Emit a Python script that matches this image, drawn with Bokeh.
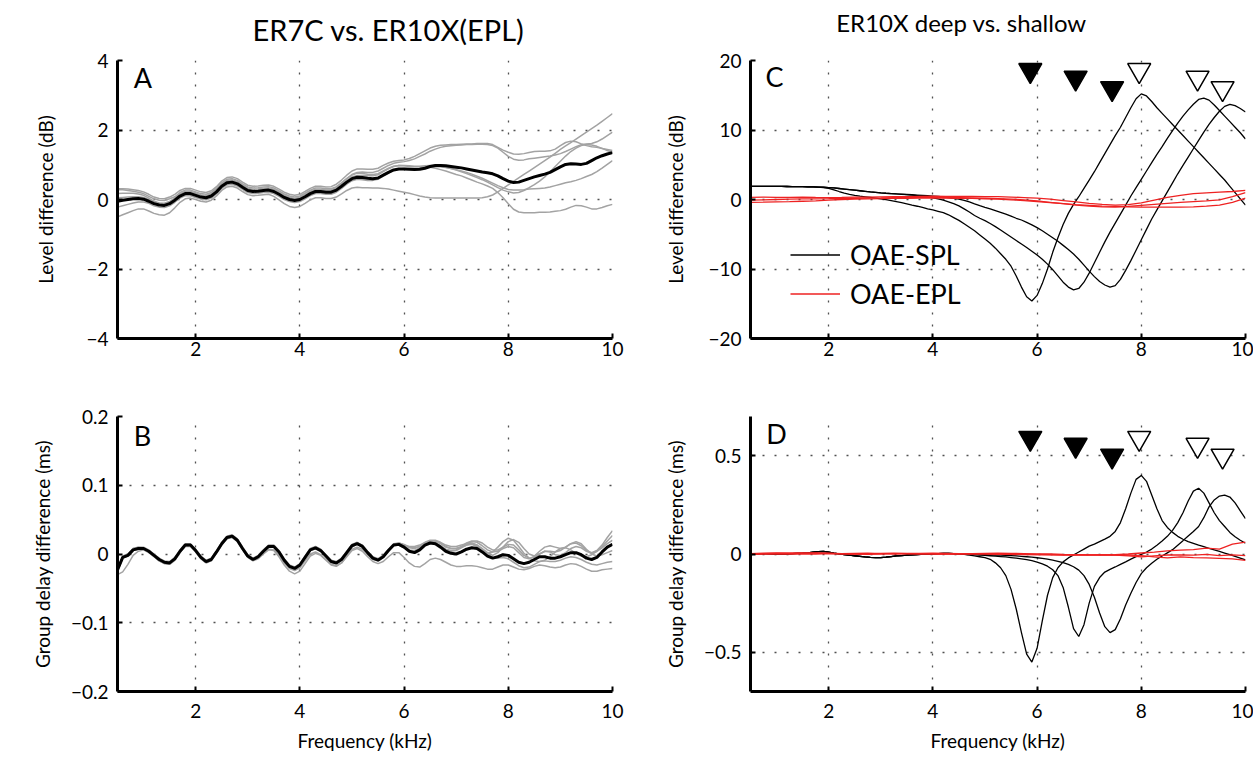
from bokeh.plotting import figure
from bokeh.layouts import row, column
from bokeh.models import Range1d, FixedTicker, CustomJSTickFormatter, Label, Legend, LegendItem
from bokeh.embed import file_html
from bokeh.resources import INLINE

FONT = "Lato"

# frequency sample grids (kHz)
FREQ = [round(0.5 + 0.1 * i, 1) for i in range(96)]
FREQ_EPL = [round(0.5 + 0.25 * i, 2) for i in range(39)]

# ---------------- Panel A: level difference ER7C vs ER10X (dB) ----------------
A_MEAN = [-0.05,-0.02,0.00,0.02,0.03,0.01,-0.05,-0.12,-0.16,-0.17,
          -0.12,-0.02,0.10,0.17,0.17,0.12,0.07,0.05,0.10,0.22,
          0.38,0.48,0.50,0.45,0.35,0.26,0.23,0.24,0.26,0.27,
          0.23,0.15,0.06,0.00,-0.03,0.00,0.08,0.17,0.23,0.23,
          0.21,0.21,0.27,0.38,0.50,0.60,0.64,0.63,0.61,0.60,
          0.62,0.70,0.78,0.85,0.88,0.88,0.87,0.86,0.87,0.90,
          0.95,0.98,0.98,0.97,0.95,0.93,0.91,0.88,0.85,0.82,
          0.79,0.77,0.74,0.68,0.60,0.53,0.49,0.50,0.55,0.60,
          0.65,0.69,0.73,0.78,0.86,0.94,1.01,1.03,1.02,1.01,
          1.04,1.12,1.20,1.26,1.31,1.35]
A_S1 = [-0.50,-0.44,-0.38,-0.32,-0.27,-0.27,-0.33,-0.40,-0.44,-0.45,
        -0.38,-0.24,-0.08,0.02,0.04,0.00,-0.05,-0.07,-0.02,0.10,
        0.26,0.36,0.38,0.33,0.23,0.14,0.11,0.12,0.14,0.15,
        0.09,-0.01,-0.12,-0.20,-0.23,-0.20,-0.11,-0.01,0.05,0.05,
        0.03,0.03,0.07,0.16,0.26,0.33,0.35,0.34,0.34,0.33,
        0.33,0.32,0.30,0.27,0.24,0.21,0.18,0.14,0.10,0.07,
        0.05,0.04,0.04,0.04,0.04,0.04,0.04,0.04,0.04,0.04,
        0.05,0.08,0.13,0.22,0.32,0.42,0.52,0.62,0.72,0.82,
        0.92,1.02,1.12,1.22,1.33,1.44,1.54,1.64,1.74,1.84,
        1.94,2.04,2.14,2.25,2.36,2.47]
A_S2 = [0.28,0.28,0.26,0.24,0.21,0.17,0.09,0.02,-0.02,-0.03,
        0.02,0.08,0.20,0.27,0.27,0.22,0.17,0.15,0.20,0.32,
        0.48,0.58,0.60,0.55,0.45,0.36,0.33,0.34,0.36,0.37,
        0.33,0.25,0.16,0.10,0.07,0.10,0.18,0.27,0.33,0.33,
        0.31,0.31,0.37,0.48,0.60,0.70,0.76,0.75,0.73,0.72,
        0.74,0.82,0.90,0.96,0.98,0.97,0.95,0.94,0.94,0.94,
        0.93,0.90,0.86,0.82,0.77,0.72,0.68,0.62,0.56,0.50,
        0.45,0.39,0.32,0.20,0.05,-0.12,-0.28,-0.36,-0.38,-0.38,
        -0.38,-0.37,-0.37,-0.36,-0.34,-0.32,-0.28,-0.22,-0.17,-0.18,
        -0.22,-0.27,-0.27,-0.23,-0.18,-0.14]
A_S3 = [0.31,0.31,0.30,0.28,0.26,0.22,0.15,0.07,0.03,0.02,
        0.07,0.15,0.26,0.32,0.32,0.27,0.22,0.20,0.25,0.37,
        0.53,0.63,0.65,0.60,0.50,0.41,0.38,0.39,0.41,0.42,
        0.38,0.30,0.21,0.15,0.12,0.15,0.23,0.32,0.38,0.38,
        0.36,0.37,0.44,0.56,0.70,0.82,0.88,0.88,0.87,0.87,
        0.90,0.98,1.05,1.10,1.12,1.14,1.18,1.24,1.32,1.40,
        1.48,1.53,1.56,1.57,1.58,1.58,1.59,1.60,1.60,1.61,
        1.61,1.61,1.58,1.50,1.42,1.36,1.31,1.30,1.32,1.35,
        1.38,1.39,1.39,1.40,1.45,1.55,1.64,1.68,1.66,1.60,
        1.55,1.52,1.50,1.47,1.44,1.41]
A_S4 = [0.17,0.18,0.18,0.18,0.16,0.12,0.04,-0.05,-0.10,-0.11,
        -0.06,0.04,0.16,0.23,0.23,0.18,0.13,0.11,0.16,0.28,
        0.44,0.54,0.56,0.51,0.41,0.32,0.29,0.30,0.32,0.33,
        0.29,0.21,0.12,0.06,0.03,0.06,0.14,0.23,0.29,0.29,
        0.27,0.28,0.35,0.47,0.60,0.72,0.78,0.79,0.78,0.78,
        0.82,0.90,0.98,1.04,1.07,1.09,1.12,1.17,1.24,1.31,
        1.39,1.45,1.50,1.53,1.55,1.56,1.57,1.58,1.58,1.59,
        1.59,1.58,1.55,1.48,1.36,1.24,1.16,1.13,1.14,1.17,
        1.19,1.21,1.23,1.25,1.28,1.32,1.38,1.45,1.52,1.58,
        1.60,1.61,1.66,1.74,1.84,1.94]
A_S5 = [-0.22,-0.18,-0.14,-0.10,-0.07,-0.07,-0.11,-0.18,-0.22,-0.23,
        -0.18,-0.08,0.04,0.11,0.11,0.06,0.01,-0.01,0.04,0.16,
        0.32,0.42,0.44,0.39,0.29,0.20,0.17,0.18,0.20,0.21,
        0.17,0.09,0.00,-0.06,-0.09,-0.06,0.02,0.11,0.17,0.17,
        0.15,0.15,0.21,0.32,0.44,0.54,0.58,0.57,0.55,0.55,
        0.58,0.67,0.76,0.84,0.88,0.89,0.89,0.89,0.90,0.92,
        0.94,0.95,0.94,0.92,0.89,0.86,0.82,0.78,0.73,0.67,
        0.61,0.54,0.47,0.40,0.34,0.29,0.27,0.27,0.28,0.30,
        0.31,0.32,0.33,0.36,0.40,0.44,0.48,0.51,0.55,0.60,
        0.66,0.72,0.80,0.90,1.01,1.12]
A_S6 = [0.05,0.06,0.07,0.08,0.08,0.06,0.00,-0.07,-0.11,-0.12,
        -0.07,0.03,0.15,0.22,0.22,0.17,0.12,0.10,0.15,0.27,
        0.43,0.53,0.55,0.50,0.40,0.31,0.28,0.29,0.31,0.32,
        0.28,0.20,0.11,0.05,0.02,0.05,0.13,0.22,0.28,0.28,
        0.26,0.26,0.32,0.43,0.55,0.65,0.69,0.69,0.68,0.68,
        0.71,0.80,0.88,0.95,0.98,0.98,0.97,0.96,0.96,0.97,
        0.98,0.98,0.96,0.93,0.89,0.85,0.80,0.75,0.69,0.63,
        0.57,0.50,0.42,0.34,0.27,0.22,0.19,0.20,0.26,0.34,
        0.43,0.53,0.65,0.79,0.95,1.10,1.25,1.38,1.48,1.55,
        1.58,1.57,1.53,1.47,1.41,1.35]

# ---------------- Panel B: group delay difference (ms) ----------------
B_MEAN = [-0.023,-0.005,-0.002,0.006,0.008,0.008,0.004,-0.002,-0.008,-0.012,
          -0.013,-0.007,0.004,0.013,0.013,0.005,-0.005,-0.011,-0.008,0.003,
          0.015,0.024,0.026,0.020,0.008,-0.003,-0.008,-0.004,0.004,0.011,
          0.011,0.003,-0.009,-0.018,-0.021,-0.016,-0.005,0.006,0.009,0.005,
          -0.003,-0.011,-0.013,-0.008,0.002,0.012,0.015,0.011,0.002,-0.006,
          -0.009,-0.004,0.005,0.013,0.014,0.010,0.004,0.002,0.006,0.013,
          0.016,0.015,0.010,0.004,0.001,0.000,0.003,0.007,0.009,0.008,
          0.003,-0.003,-0.006,-0.004,-0.001,-0.002,-0.007,-0.012,-0.014,-0.012,
          -0.008,-0.004,-0.004,-0.006,-0.006,-0.004,-0.001,0.002,0.002,-0.001,
          -0.006,-0.008,-0.005,0.003,0.010,0.014]
B_S1 = [-0.030,-0.026,-0.015,-0.002,0.004,0.006,0.002,-0.004,-0.010,-0.014,
        -0.015,-0.009,0.002,0.011,0.011,0.003,-0.007,-0.013,-0.010,0.001,
        0.013,0.022,0.024,0.018,0.006,-0.005,-0.010,-0.007,0.000,0.006,
        0.005,-0.004,-0.016,-0.025,-0.029,-0.025,-0.014,-0.003,0.001,-0.002,
        -0.009,-0.016,-0.018,-0.013,-0.003,0.007,0.010,0.007,-0.001,-0.008,
        -0.010,-0.005,0.004,0.012,0.013,0.009,0.005,0.004,0.008,0.015,
        0.019,0.019,0.015,0.010,0.008,0.008,0.011,0.016,0.019,0.019,
        0.016,0.010,0.006,0.006,0.010,0.014,0.013,0.006,-0.002,-0.006,
        -0.005,0.000,0.004,0.004,0.003,0.005,0.010,0.015,0.016,0.012,
        0.005,0.002,0.005,0.013,0.024,0.034]
B_S2 = [-0.020,-0.004,0.000,0.008,0.010,0.009,0.004,-0.003,-0.010,-0.014,
        -0.015,-0.009,0.002,0.012,0.012,0.004,-0.006,-0.012,-0.009,0.002,
        0.014,0.023,0.025,0.019,0.007,-0.004,-0.009,-0.006,0.001,0.007,
        0.006,-0.002,-0.013,-0.021,-0.024,-0.020,-0.010,0.000,0.003,-0.001,
        -0.008,-0.015,-0.017,-0.013,-0.004,0.005,0.008,0.004,-0.004,-0.011,
        -0.014,-0.011,-0.004,0.002,0.002,-0.005,-0.013,-0.018,-0.019,-0.014,
        -0.008,-0.006,-0.008,-0.012,-0.016,-0.018,-0.018,-0.017,-0.017,-0.018,
        -0.020,-0.022,-0.022,-0.019,-0.016,-0.016,-0.019,-0.022,-0.023,-0.021,
        -0.018,-0.016,-0.017,-0.019,-0.020,-0.019,-0.016,-0.014,-0.015,-0.018,
        -0.022,-0.025,-0.025,-0.023,-0.022,-0.021]
B_S3 = [-0.021,-0.003,0.000,0.008,0.010,0.010,0.006,0.000,-0.006,-0.010,
        -0.011,-0.005,0.006,0.015,0.015,0.007,-0.003,-0.009,-0.006,0.005,
        0.017,0.026,0.028,0.022,0.010,-0.001,-0.006,-0.002,0.006,0.013,
        0.013,0.005,-0.007,-0.016,-0.019,-0.014,-0.003,0.008,0.011,0.007,
        -0.001,-0.009,-0.011,-0.006,0.004,0.014,0.017,0.013,0.004,-0.004,
        -0.007,-0.002,0.007,0.015,0.016,0.014,0.010,0.009,0.011,0.016,
        0.019,0.019,0.016,0.011,0.008,0.008,0.010,0.013,0.015,0.013,
        0.008,0.002,-0.002,0.002,0.010,0.018,0.021,0.017,0.008,0.000,
        -0.003,0.000,0.004,0.003,-0.001,-0.002,0.002,0.008,0.011,0.009,
        0.004,0.001,0.004,0.011,0.019,0.027]
B_S4 = [-0.025,-0.006,-0.003,0.005,0.007,0.007,0.003,-0.003,-0.009,-0.013,
        -0.014,-0.008,0.003,0.012,0.012,0.004,-0.006,-0.012,-0.009,0.002,
        0.014,0.023,0.025,0.019,0.007,-0.004,-0.009,-0.005,0.003,0.010,
        0.010,0.002,-0.010,-0.019,-0.022,-0.017,-0.006,0.005,0.008,0.004,
        -0.004,-0.012,-0.014,-0.009,0.001,0.011,0.014,0.010,0.002,-0.005,
        -0.007,-0.002,0.007,0.014,0.016,0.013,0.009,0.008,0.011,0.016,
        0.018,0.016,0.011,0.006,0.004,0.005,0.009,0.013,0.014,0.011,
        0.005,0.001,0.003,0.010,0.018,0.023,0.020,0.011,0.001,-0.006,
        -0.010,-0.011,-0.009,-0.004,0.003,0.008,0.009,0.006,0.001,-0.003,
        -0.004,-0.001,0.004,0.009,0.015,0.020]
B_S5 = [-0.024,-0.006,-0.002,0.006,0.008,0.008,0.004,-0.002,-0.008,-0.012,
        -0.013,-0.007,0.004,0.013,0.013,0.005,-0.005,-0.011,-0.008,0.003,
        0.015,0.024,0.026,0.020,0.008,-0.003,-0.008,-0.004,0.004,0.011,
        0.011,0.003,-0.009,-0.018,-0.021,-0.016,-0.005,0.006,0.009,0.005,
        -0.003,-0.011,-0.013,-0.008,0.002,0.012,0.015,0.011,0.002,-0.006,
        -0.009,-0.004,0.005,0.013,0.015,0.013,0.011,0.011,0.013,0.017,
        0.020,0.020,0.017,0.013,0.011,0.011,0.013,0.015,0.016,0.013,
        0.007,0.000,-0.005,-0.006,-0.005,-0.007,-0.012,-0.017,-0.020,-0.019,
        -0.015,-0.011,-0.010,-0.011,-0.011,-0.009,-0.006,-0.004,-0.005,-0.008,
        -0.012,-0.015,-0.016,-0.014,-0.012,-0.011]
B_S6 = [-0.022,-0.004,-0.001,0.007,0.009,0.009,0.005,-0.001,-0.007,-0.011,
        -0.012,-0.006,0.005,0.014,0.014,0.006,-0.004,-0.010,-0.007,0.004,
        0.016,0.025,0.027,0.021,0.009,-0.002,-0.007,-0.003,0.005,0.012,
        0.012,0.004,-0.008,-0.017,-0.020,-0.015,-0.004,0.007,0.010,0.006,
        -0.002,-0.010,-0.012,-0.007,0.003,0.013,0.016,0.012,0.003,-0.005,
        -0.008,-0.003,0.006,0.014,0.015,0.011,0.006,0.005,0.009,0.015,
        0.018,0.017,0.012,0.007,0.005,0.006,0.010,0.015,0.018,0.017,
        0.012,0.006,0.003,0.004,0.008,0.011,0.009,0.002,-0.005,-0.007,
        -0.003,0.004,0.010,0.012,0.010,0.008,0.010,0.015,0.018,0.015,
        0.007,0.000,-0.003,-0.001,0.002,0.005]

# ---------------- Panel C: level difference deep vs shallow (dB) ----------------
C_SPL1 = [1.90,1.90,1.90,1.90,1.89,1.89,1.88,1.87,1.86,1.85,
          1.84,1.83,1.81,1.78,1.72,1.60,1.40,1.15,0.92,0.74,
          0.60,0.48,0.39,0.30,0.20,0.10,-0.02,-0.15,-0.30,-0.45,
          -0.62,-0.80,-0.97,-1.15,-1.34,-1.50,-1.70,-1.90,-2.20,-2.60,
          -3.00,-3.50,-4.00,-4.50,-5.10,-5.70,-6.30,-7.00,-7.80,-8.60,
          -9.60,-11.00,-12.60,-14.00,-14.60,-13.80,-12.10,-10.00,-7.60,-5.50,
          -3.60,-2.00,-0.70,0.40,1.60,2.80,4.00,5.30,6.60,7.90,
          9.20,10.40,11.80,13.20,14.50,15.20,14.90,14.10,13.20,12.40,
          11.60,10.80,10.00,9.20,8.40,7.60,6.80,6.00,5.20,4.40,
          3.60,2.80,1.90,1.00,0.10,-0.80]
C_SPL2 = [1.90,1.90,1.90,1.90,1.89,1.89,1.88,1.87,1.86,1.85,
          1.84,1.83,1.81,1.78,1.76,1.72,1.66,1.58,1.50,1.42,
          1.34,1.26,1.18,1.10,1.03,0.96,0.90,0.85,0.80,0.75,
          0.70,0.64,0.57,0.48,0.38,0.25,0.08,-0.10,-0.33,-0.60,
          -0.92,-1.35,-1.80,-2.30,-2.70,-3.05,-3.45,-3.90,-4.40,-4.90,
          -5.40,-5.90,-6.40,-6.90,-7.45,-8.00,-8.60,-9.30,-10.10,-11.00,
          -11.90,-12.60,-13.00,-12.80,-11.90,-10.60,-9.10,-7.60,-6.10,-4.70,
          -3.40,-2.10,-0.80,0.50,1.70,2.90,4.10,5.30,6.50,7.60,
          8.80,9.90,11.00,12.00,12.90,13.70,14.40,14.60,14.30,13.60,
          12.80,12.00,11.20,10.40,9.60,8.70]
C_SPL3 = [1.90,1.90,1.90,1.90,1.89,1.89,1.88,1.87,1.86,1.85,
          1.84,1.83,1.81,1.78,1.76,1.72,1.66,1.58,1.50,1.42,
          1.34,1.26,1.18,1.10,1.03,0.96,0.90,0.85,0.80,0.76,
          0.72,0.68,0.64,0.60,0.55,0.50,0.44,0.37,0.28,0.18,
          0.05,-0.12,-0.35,-0.62,-0.88,-1.12,-1.35,-1.60,-1.85,-2.10,
          -2.40,-2.70,-2.95,-3.30,-3.65,-4.05,-4.50,-5.00,-5.50,-6.00,
          -6.60,-7.20,-7.85,-8.60,-9.45,-10.30,-11.10,-11.80,-12.30,-12.60,
          -12.40,-11.50,-10.20,-8.80,-7.30,-5.80,-4.30,-2.80,-1.50,-0.20,
          1.10,2.40,3.70,4.90,6.10,7.30,8.50,9.70,10.80,11.80,
          12.70,13.40,13.70,13.50,13.10,12.60]
C_EPL1 = [0.30,0.35,0.32,0.30,0.33,0.30,0.28,0.30,0.33,0.35,
          0.38,0.40,0.42,0.45,0.48,0.46,0.45,0.44,0.42,0.40,
          0.35,0.28,0.20,0.05,-0.15,-0.35,-0.55,-0.70,-0.80,-0.75,
          -0.50,-0.10,0.30,0.60,0.85,0.95,1.05,1.15,1.30]
C_EPL2 = [-0.10,-0.05,0.00,0.05,0.08,0.10,0.12,0.15,0.18,0.20,
          0.22,0.25,0.28,0.30,0.30,0.28,0.25,0.22,0.18,0.12,
          0.05,-0.05,-0.20,-0.40,-0.60,-0.80,-0.95,-1.05,-1.10,-1.00,
          -0.85,-0.70,-0.55,-0.40,-0.30,-0.20,-0.05,0.40,1.00]
C_EPL3 = [-0.40,-0.38,-0.33,-0.30,-0.25,-0.20,-0.10,0.00,0.05,0.10,
          0.12,0.15,0.18,0.20,0.22,0.20,0.18,0.15,0.10,0.05,
          -0.05,-0.15,-0.30,-0.45,-0.60,-0.75,-0.85,-0.95,-1.00,-1.05,
          -1.10,-1.10,-1.10,-1.10,-1.05,-0.95,-0.80,-0.40,0.20]

# ---------------- Panel D: group delay difference deep vs shallow (ms) ----------------
D_SPL1 = [0.000,0.001,0.002,0.002,0.001,0.000,0.000,0.001,0.002,0.003,
          0.004,0.006,0.009,0.012,0.013,0.010,0.005,0.001,-0.003,-0.006,
          -0.009,-0.012,-0.015,-0.017,-0.018,-0.018,-0.016,-0.013,-0.010,-0.008,
          -0.006,-0.004,-0.003,-0.001,0.000,0.001,0.002,0.003,0.003,0.002,
          0.001,-0.002,-0.006,-0.010,-0.014,-0.019,-0.027,-0.045,-0.070,-0.110,
          -0.180,-0.280,-0.400,-0.510,-0.550,-0.480,-0.340,-0.210,-0.120,-0.070,
          -0.040,-0.020,-0.005,0.010,0.025,0.040,0.050,0.063,0.076,0.090,
          0.115,0.160,0.230,0.310,0.380,0.400,0.370,0.300,0.230,0.170,
          0.135,0.110,0.090,0.075,0.063,0.054,0.045,0.037,0.029,0.021,
          0.013,0.005,-0.003,-0.012,-0.021,-0.030]
D_SPL2 = [0.000,0.001,0.002,0.002,0.001,0.000,0.000,0.001,0.002,0.003,
          0.004,0.006,0.009,0.012,0.013,0.010,0.005,0.001,-0.003,-0.006,
          -0.009,-0.012,-0.015,-0.017,-0.018,-0.018,-0.016,-0.013,-0.010,-0.008,
          -0.006,-0.004,-0.003,-0.001,0.000,0.001,0.002,0.003,0.003,0.002,
          0.001,0.000,-0.001,-0.003,-0.005,-0.007,-0.009,-0.011,-0.013,-0.015,
          -0.018,-0.021,-0.025,-0.029,-0.034,-0.041,-0.050,-0.062,-0.080,-0.110,
          -0.170,-0.270,-0.380,-0.420,-0.360,-0.250,-0.165,-0.120,-0.092,-0.078,
          -0.066,-0.053,-0.040,-0.026,-0.013,-0.002,0.010,0.025,0.045,0.066,
          0.090,0.120,0.160,0.210,0.270,0.320,0.335,0.310,0.260,0.210,
          0.170,0.140,0.110,0.088,0.070,0.055]
D_SPL3 = [0.000,0.001,0.002,0.002,0.001,0.000,0.000,0.001,0.002,0.003,
          0.004,0.006,0.009,0.012,0.013,0.010,0.005,0.001,-0.003,-0.006,
          -0.009,-0.012,-0.015,-0.017,-0.018,-0.018,-0.016,-0.013,-0.010,-0.008,
          -0.006,-0.004,-0.003,-0.001,0.000,0.001,0.002,0.003,0.003,0.002,
          0.001,0.000,0.000,-0.001,-0.002,-0.003,-0.004,-0.005,-0.006,-0.007,
          -0.008,-0.010,-0.012,-0.014,-0.016,-0.019,-0.022,-0.026,-0.031,-0.037,
          -0.044,-0.053,-0.065,-0.082,-0.110,-0.155,-0.220,-0.300,-0.370,-0.400,
          -0.385,-0.330,-0.260,-0.200,-0.145,-0.100,-0.070,-0.047,-0.027,-0.010,
          0.006,0.022,0.045,0.068,0.092,0.115,0.140,0.185,0.240,0.275,
          0.295,0.300,0.290,0.260,0.220,0.180]
D_EPL1 = [0.000,0.002,0.003,0.002,0.004,0.006,0.004,0.002,0.003,0.004,
          0.002,0.001,0.002,0.003,0.004,0.003,0.002,0.002,0.003,0.004,
          0.003,0.002,0.001,0.000,-0.002,-0.003,-0.004,-0.004,-0.003,0.000,
          0.005,0.010,0.016,0.020,0.022,0.030,0.025,0.050,0.060]
D_EPL2 = [0.002,0.004,0.005,0.006,0.005,0.004,0.003,0.001,0.000,0.001,
          0.003,0.004,0.003,0.002,0.001,0.000,0.001,0.002,0.002,0.001,
          -0.001,-0.002,-0.003,-0.004,-0.005,-0.006,-0.006,-0.005,-0.006,-0.010,
          -0.015,-0.010,-0.005,-0.004,-0.006,-0.002,-0.008,-0.004,-0.008]
D_EPL3 = [-0.002,0.000,0.001,0.000,-0.001,0.000,0.002,0.001,-0.001,-0.002,
          0.000,0.002,0.001,0.000,-0.001,0.000,0.001,0.000,-0.001,-0.002,
          -0.002,-0.003,-0.002,-0.003,-0.004,-0.003,-0.004,-0.004,-0.005,-0.005,
          -0.008,-0.015,-0.020,-0.015,-0.018,-0.020,-0.022,-0.025,-0.032]

# triangle markers (dip / peak frequencies)
TRI_FILLED_F = [5.87, 6.74, 7.44]
TRI_OPEN_F = [7.96, 9.08, 9.56]
TRI_C_LEVEL = [18.6, 17.5, 16.0]
TRI_D_LEVEL = [0.59, 0.555, 0.50]

X_TICKS = [2, 4, 6, 8, 10]
A_TICKS = [-4, -2, 0, 2, 4]
B_TICKS = [-0.2, -0.1, 0, 0.1, 0.2]
C_TICKS = [-20, -10, 0, 10, 20]
D_TICKS = [-0.5, 0, 0.5]

TITLE_LEFT = "ER7C vs. ER10X(EPL)"
TITLE_RIGHT = "ER10X deep vs. shallow"

GRAY = "#a3a3a3"
RED = "#ee2222"

FMT_CODE = "return (tick < 0 ? '\u2212' : '') + String(Math.abs(tick));"

HEAD_H = 48


def make_panel(width, height, borders, yrange, yticks, ylabel, ylab_standoff,
               xlabel=None, xlab_standoff=5):
    bl, br, bt, bb = borders
    p = figure(width=width, height=height, x_range=Range1d(0.5, 10),
               y_range=Range1d(*yrange), output_backend="svg",
               toolbar_location=None, min_border_left=bl, min_border_right=br,
               min_border_top=bt, min_border_bottom=bb)
    p.outline_line_color = None
    p.xaxis.ticker = FixedTicker(ticks=X_TICKS)
    p.yaxis.ticker = FixedTicker(ticks=yticks)
    p.yaxis.formatter = CustomJSTickFormatter(code=FMT_CODE)
    for ax in (p.xaxis[0], p.yaxis[0]):
        ax.axis_line_width = 3
        ax.axis_line_color = "black"
        ax.major_tick_in = 5
        ax.major_tick_out = 0
        ax.major_tick_line_width = 2
        ax.minor_tick_line_color = None
        ax.major_label_text_font = FONT
        ax.major_label_text_font_size = "19px"
        ax.major_label_text_color = "black"
        ax.axis_label_text_font = FONT
        ax.axis_label_text_font_size = "19px"
        ax.axis_label_text_font_style = "normal"
        ax.axis_label_text_color = "black"
    p.yaxis.axis_label = ylabel
    p.yaxis.axis_label_standoff = ylab_standoff
    p.yaxis.major_label_standoff = 9
    p.xaxis.major_label_standoff = xlab_standoff
    if xlabel:
        p.xaxis.axis_label = xlabel
        p.xaxis.axis_label_standoff = 8
    for g in (p.xgrid[0], p.ygrid[0]):
        g.grid_line_color = "#333333"
        g.grid_line_dash = "2 10"
        g.grid_line_width = 1.3
        g.grid_line_alpha = 0.85
    return p


def make_header(width, text, size, cx, cy):
    # a blank strip (pixel coordinates, y measured from the top) carrying a column heading
    h = figure(width=width, height=HEAD_H, x_range=Range1d(0, width),
               y_range=Range1d(HEAD_H, 0), output_backend="svg",
               toolbar_location=None, x_axis_type=None, y_axis_type=None,
               min_border=0)
    h.outline_line_color = None
    h.xgrid.visible = False
    h.ygrid.visible = False
    h.add_layout(Label(x=cx, y=cy, text=text, text_font=FONT, text_font_size=size,
                       text_align="center", text_baseline="middle", text_color="black"))
    return h


def letter(p, x, y, t):
    p.add_layout(Label(x=x, y=y, text=t, text_font=FONT, text_font_size="27px",
                       text_baseline="middle", text_align="left", text_color="black"))


# ---- headings ----
hA = make_header(628, TITLE_LEFT, "29px", 388, 29)
hC = make_header(625, TITLE_RIGHT, "24px", 333, 22)

# ---- A ----
pA = make_panel(628, 378 - HEAD_H, (117, 16, 60 - HEAD_H, 40), (-4, 4), A_TICKS,
                "Level difference (dB)", 26, xlab_standoff=3)
for s in (A_S1, A_S2, A_S3, A_S4, A_S5, A_S6):
    pA.line(FREQ, s, line_color=GRAY, line_width=1.5)
pA.line(FREQ, A_MEAN, line_color="black", line_width=3)
letter(pA, 0.81, 3.52, "A")

# ---- B ----
pB = make_panel(628, 376, (117, 16, 37, 62), (-0.2, 0.2), B_TICKS, "Group delay difference (ms)", 14,
                xlabel="Frequency (kHz)", xlab_standoff=12)
for s in (B_S1, B_S2, B_S3, B_S4, B_S5, B_S6):
    pB.line(FREQ, s, line_color=GRAY, line_width=1.5)
pB.line(FREQ, B_MEAN, line_color="black", line_width=3)
letter(pB, 0.81, 0.172, "B")

# ---- C ----
pC = make_panel(625, 378 - HEAD_H, (122, 8, 60 - HEAD_H, 40), (-20, 20), C_TICKS,
                "Level difference (dB)", 18, xlab_standoff=3)
spl_r = [pC.line(FREQ, s, line_color="black", line_width=1.3) for s in (C_SPL1, C_SPL2, C_SPL3)]
epl_r = [pC.line(FREQ_EPL, s, line_color=RED, line_width=1.3) for s in (C_EPL1, C_EPL2, C_EPL3)]
pC.scatter(TRI_FILLED_F, TRI_C_LEVEL, marker="inverted_triangle", size=23,
           fill_color="black", line_color="black", line_width=1.5)
pC.scatter(TRI_OPEN_F, TRI_C_LEVEL, marker="inverted_triangle", size=23,
           fill_color="white", line_color="black", line_width=1.5)
letter(pC, 0.79, 17.7, "C")
leg = Legend(items=[LegendItem(label="OAE-SPL", renderers=[spl_r[0]]),
                    LegendItem(label="OAE-EPL", renderers=[epl_r[0]])],
             location=(40, 27))
leg.border_line_color = None
leg.background_fill_alpha = 0
leg.padding = 0
leg.margin = 0
leg.spacing = 4
leg.glyph_width = 50
leg.glyph_height = 35
leg.label_height = 35
leg.label_standoff = 10
leg.label_text_font = FONT
leg.label_text_font_size = "27px"
leg.label_text_color = "black"
pC.add_layout(leg)

# ---- D ----
pD = make_panel(625, 376, (122, 8, 38, 61), (-0.7, 0.7), D_TICKS, "Group delay difference (ms)", 14,
                xlabel="Frequency (kHz)", xlab_standoff=12)
for s in (D_SPL1, D_SPL2, D_SPL3):
    pD.line(FREQ, s, line_color="black", line_width=1.3)
for s in (D_EPL1, D_EPL2, D_EPL3):
    pD.line(FREQ_EPL, s, line_color=RED, line_width=1.3)
pD.scatter(TRI_FILLED_F, TRI_D_LEVEL, marker="inverted_triangle", size=23,
           fill_color="black", line_color="black", line_width=1.5)
pD.scatter(TRI_OPEN_F, TRI_D_LEVEL, marker="inverted_triangle", size=23,
           fill_color="white", line_color="black", line_width=1.5)
letter(pD, 0.80, 0.614, "D")

layout = column(row(hA, hC), row(pA, pC), row(pB, pD))
open("out.html", "w").write(file_html(layout, INLINE))
